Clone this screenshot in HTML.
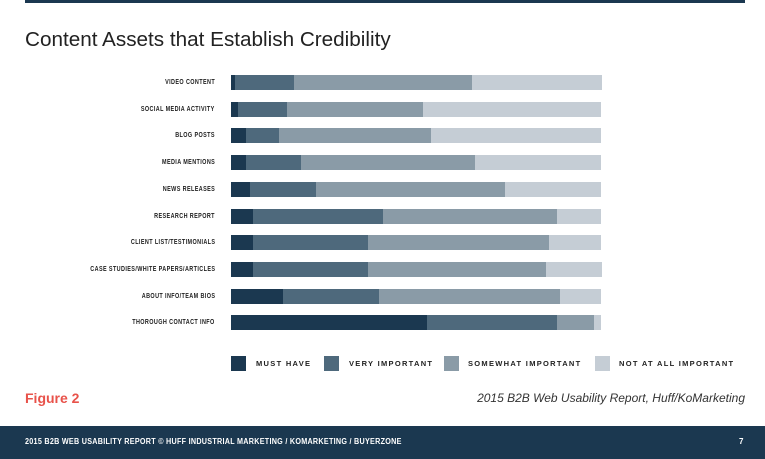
<!DOCTYPE html>
<html><head><meta charset="utf-8"><style>
body{margin:0;width:765px;height:459px;background:#fff;position:relative;overflow:hidden;font-family:"Liberation Sans",sans-serif}
.lbl{position:absolute;right:550px;font-size:7px;font-weight:bold;letter-spacing:0.5px;color:#222;white-space:nowrap;line-height:15px;transform-origin:right center;transform:scaleX(0.78)}
.lg{position:absolute;top:356px;width:15px;height:15px}
.lt{position:absolute;top:356px;font-size:7.5px;font-weight:bold;letter-spacing:1.3px;color:#222;line-height:15px}
</style></head><body>
<div style="position:absolute;left:25px;top:0;width:720px;height:3px;background:#1b3850"></div>
<div style="position:absolute;left:25px;top:28px;font-size:20.7px;color:#222;font-weight:300;letter-spacing:0px">Content Assets that Establish Credibility</div>
<div id="chart"></div>
<div class="lg" style="left:231px;background:#1b3850"></div><div class="lt" style="left:256px">MUST HAVE</div>
<div class="lg" style="left:324px;background:#4e697c"></div><div class="lt" style="left:349px">VERY IMPORTANT</div>
<div class="lg" style="left:444px;background:#8a9ba7"></div><div class="lt" style="left:468px">SOMEWHAT IMPORTANT</div>
<div class="lg" style="left:595px;background:#c5cdd5"></div><div class="lt" style="left:619px">NOT AT ALL IMPORTANT</div>
<div style="position:absolute;left:25px;top:390px;font-size:14px;font-weight:bold;color:#e8524a">Figure 2</div>
<div style="position:absolute;right:20px;top:391px;font-size:12px;font-style:italic;color:#333">2015 B2B Web Usability Report, Huff/KoMarketing</div>
<div style="position:absolute;left:0;top:426px;width:765px;height:33px;background:#1b3850;color:#fff;font-size:8px;font-weight:bold;letter-spacing:0.3px">
<span style="position:absolute;left:25px;top:11px;transform-origin:left center;transform:scaleX(0.9);white-space:nowrap">2015 B2B WEB USABILITY REPORT © HUFF INDUSTRIAL MARKETING / KOMARKETING / BUYERZONE</span>
<span style="position:absolute;left:739px;top:11px">7</span></div>
<script>
const categories=["VIDEO CONTENT","SOCIAL MEDIA ACTIVITY","BLOG POSTS","MEDIA MENTIONS","NEWS RELEASES","RESEARCH REPORT","CLIENT LIST/TESTIMONIALS","CASE STUDIES/WHITE PAPERS/ARTICLES","ABOUT INFO/TEAM BIOS","THOROUGH CONTACT INFO"];
const mustHave=[1,2,4,4,5,6,6,6,14,53];
const veryImportant=[16,13,9,15,18,35,31,31,26,35];
const somewhatImportant=[48,37,41,47,51,47,49,48,49,10];
const notImportant=[35,48,46,34,26,12,14,15,11,2];
const colors=["#1b3850","#4e697c","#8a9ba7","#c5cdd5"];
const names=["must-have","very-important","somewhat-important","not-important"];
const x0=231,W=370,y0=75,step=26.7,h=15;
const xs=v=>v/100*W;
const c=document.getElementById('chart');
categories.forEach((cat,i)=>{
 const y=y0+i*step;
 const l=document.createElement('div');
 l.className='lbl';l.style.top=y+'px';l.textContent=cat;
 
 
 c.appendChild(l);
 const vals=[mustHave[i],veryImportant[i],somewhatImportant[i],notImportant[i]];
 const tot=vals.reduce((a,b)=>a+b,0);
 let acc=0;
 vals.forEach((v,k)=>{
  const b=document.createElement('div');
  b.style.cssText=`position:absolute;top:${y}px;height:${h}px;left:${x0+xs(acc/tot*100)}px;width:${xs(v/tot*100)+0.5}px;background:${colors[k]}`;
  
  
  c.appendChild(b);acc+=v;
 });
});
</script>
</body></html>
